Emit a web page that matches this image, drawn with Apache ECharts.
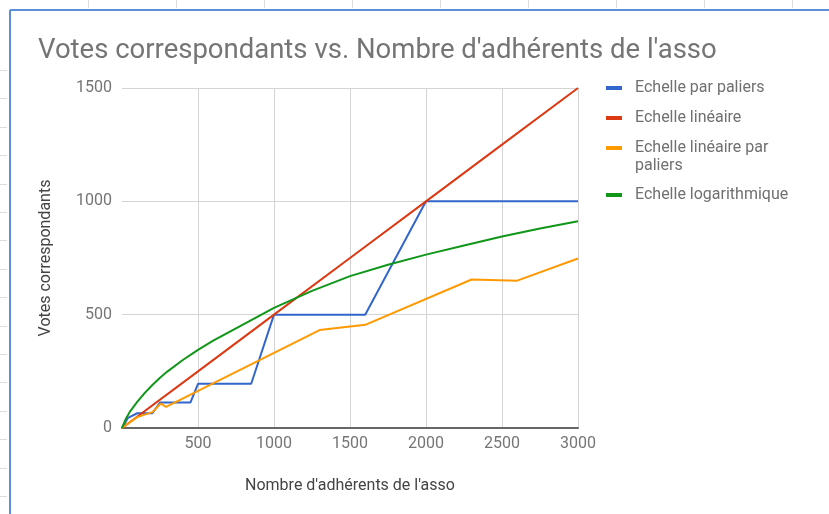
<!DOCTYPE html>
<html>
<head>
<meta charset="utf-8">
<script src="https://cdn.jsdelivr.net/npm/echarts@6/dist/echarts.min.js"></script>
<style>
html,body{margin:0;padding:0;background:#fff;}
#c{width:829px;height:514px;}
</style>
</head>
<body>
<div id="c"></div>
<script>
const titleText = "Votes correspondants vs. Nombre d'adhérents de l'asso";
const xAxisTitle = "Nombre d'adhérents de l'asso";
const yAxisTitle = "Votes correspondants";
const seriesNames = ["Echelle par paliers", "Echelle linéaire", "Echelle linéaire par paliers", "Echelle logarithmique"];
const legendLabels = ["Echelle par paliers", "Echelle linéaire", "Echelle linéaire par\npaliers", "Echelle logarithmique"];
const seriesColors = ["#3366cc", "#dc3912", "#ff9900", "#109618"];

const paliersX = [0, 40, 100, 200, 250, 450, 500, 850, 1000, 1600, 2000, 3000];
const paliersY = [0, 45, 65, 65, 112, 112, 195, 195, 500, 500, 1000, 1000];

const lineaireX = [0, 500, 1000, 1500, 2000, 2500, 3000];
const lineaireY = [0, 250, 500, 750, 1000, 1250, 1500];

const linPaliersX = [0, 100, 200, 255, 290, 1300, 1600, 2300, 2600, 3000];
const linPaliersY = [0, 48, 70, 108, 93, 432, 455, 655, 650, 748];

const logX = [0, 25, 50, 100, 150, 200, 250, 300, 400, 500, 600, 750, 1000, 1250, 1500, 1750, 2000, 2250, 2500, 2750, 3000];
const logY = [0, 40, 70, 115, 155, 190, 222, 250, 300, 345, 385, 440, 530, 605, 670, 720, 765, 805, 845, 880, 912];

const xMin = 0, xMax = 3000, xStep = 500;
const yMin = 0, yMax = 1500, yStep = 500;

function pairs(xs, ys) { return xs.map((x, i) => [x, ys[i]]); }

const seriesData = [
  pairs(paliersX, paliersY),
  pairs(lineaireX, lineaireY),
  pairs(linPaliersX, linPaliersY),
  pairs(logX, logY)
];

const FONT = 'Roboto, "Noto Sans", sans-serif';

// legend drawn as graphic (icon aligned to first line of wrapped label)
const legendTops = [88, 118, 148, 195];
const legendGraphics = [];
legendLabels.forEach((lab, i) => {
  legendGraphics.push({
    type: 'rect', left: 606, top: legendTops[i] - 2,
    shape: { width: 16, height: 4 },
    style: { fill: seriesColors[i] }, silent: true
  });
  legendGraphics.push({
    type: 'text', left: 635, top: legendTops[i] - 9,
    style: { text: lab, fill: '#707070', font: '16px ' + FONT, lineHeight: 18 }, silent: true
  });
});

// spreadsheet frame decoration
const deco = [];
deco.push({ type: 'line', shape: { x1: 10, y1: 10, x2: 829, y2: 10 }, style: { stroke: '#5b8fdc', lineWidth: 2 }, silent: true });
deco.push({ type: 'line', shape: { x1: 10, y1: 10, x2: 10, y2: 514 }, style: { stroke: '#5b8fdc', lineWidth: 2 }, silent: true });
for (let y = 70; y < 514; y += 28.4) {
  deco.push({ type: 'line', shape: { x1: 0, y1: Math.round(y) + 0.5, x2: 7, y2: Math.round(y) + 0.5 }, style: { stroke: '#dddddd', lineWidth: 1 }, silent: true });
}
for (let x = 88; x < 829; x += 88) {
  deco.push({ type: 'line', shape: { x1: x + 0.5, y1: 0, x2: x + 0.5, y2: 8 }, style: { stroke: '#dddddd', lineWidth: 1 }, silent: true });
}

const chart = echarts.init(document.getElementById('c'), null, { renderer: 'canvas' });
chart.setOption({
  backgroundColor: '#ffffff',
  animation: false,
  title: {
    text: titleText, left: 33, top: 32,
    textStyle: { fontFamily: FONT, fontSize: 27.5, fontWeight: 'normal', color: '#757575' }
  },
  grid: { left: 122, right: 251, top: 88, bottom: 86, containLabel: false },
  xAxis: {
    type: 'value', min: xMin, max: xMax, interval: xStep,
    name: xAxisTitle, nameLocation: 'middle', nameGap: 50,
    nameTextStyle: { fontFamily: FONT, fontSize: 16, color: '#444444' },
    axisLine: { show: true, lineStyle: { color: '#666666', width: 2 } },
    axisTick: { show: false },
    axisLabel: { fontFamily: FONT, fontSize: 16, color: '#757575', margin: 8,
      formatter: v => v === 0 ? '' : String(v) },
    splitLine: { show: true, showMinLine: false, lineStyle: { color: '#d4d4d4', width: 1 } }
  },
  yAxis: {
    type: 'value', min: yMin, max: yMax, interval: yStep,
    name: yAxisTitle, nameLocation: 'middle', nameGap: 68, nameRotate: 90,
    nameTextStyle: { fontFamily: FONT, fontSize: 16, color: '#444444' },
    axisLine: { show: false },
    axisTick: { show: false },
    axisLabel: { fontFamily: FONT, fontSize: 16, color: '#757575', margin: 10,
      formatter: v => String(v) },
    splitLine: { show: true, lineStyle: { color: '#d4d4d4', width: 1 } }
  },
  series: seriesNames.map((n, i) => ({
    name: n, type: 'line', data: seriesData[i],
    showSymbol: false, symbol: 'none',
    lineStyle: { color: seriesColors[i], width: 2 },
    itemStyle: { color: seriesColors[i] },
    z: 2 + i
  })),
  graphic: deco.concat(legendGraphics)
});
</script>
</body>
</html>
